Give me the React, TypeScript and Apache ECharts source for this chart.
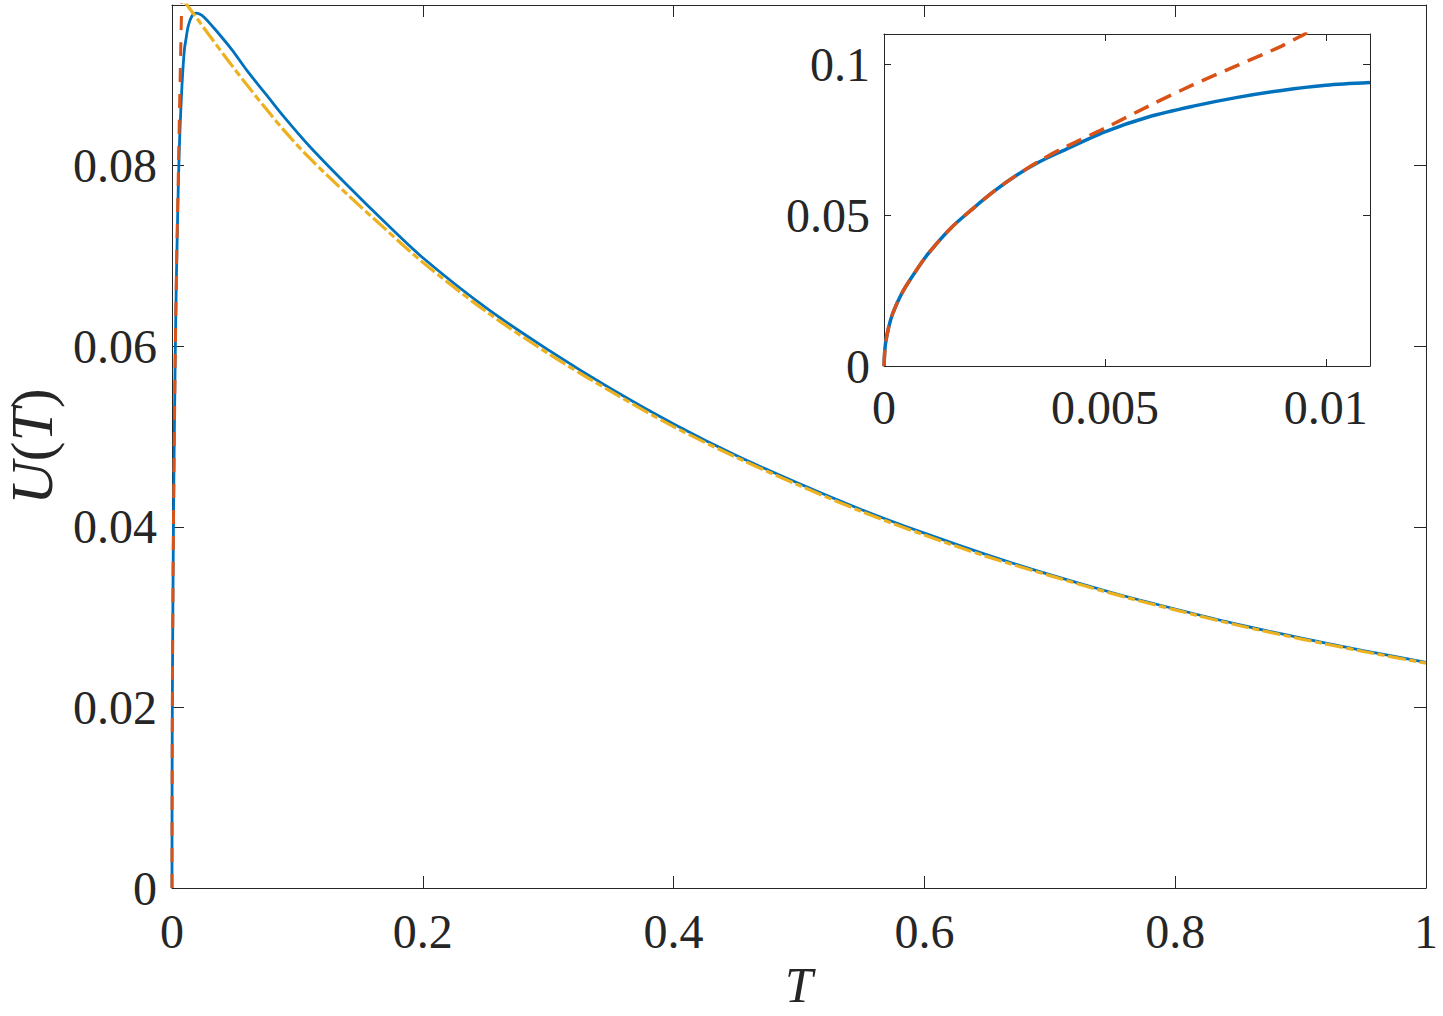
import React, { useEffect, useRef } from "react";
import * as echarts from "echarts";

// ---- Data ----
// Exact (blue) curve
const exactT = [0, 0.00003, 0.0001, 0.0002, 0.0004, 0.0007, 0.001, 0.0015, 0.002, 0.0025, 0.003, 0.0035, 0.004, 0.005, 0.006, 0.007, 0.008, 0.009, 0.01, 0.011, 0.013, 0.016, 0.019, 0.022, 0.026, 0.035, 0.048, 0.06, 0.075, 0.09, 0.11, 0.14, 0.17, 0.2, 0.25, 0.3, 0.35, 0.4, 0.45, 0.5, 0.55, 0.6, 0.65, 0.7, 0.75, 0.8, 0.85, 0.9, 0.95, 1.0];
const exactU = [0, 0.007, 0.0125, 0.0175, 0.024, 0.031, 0.0372, 0.0455, 0.052, 0.058, 0.0632, 0.0675, 0.071, 0.0776, 0.0826, 0.0861, 0.089, 0.0913, 0.093, 0.0939, 0.0955, 0.0966, 0.0969, 0.0968, 0.0964, 0.095, 0.0928, 0.0905, 0.0879, 0.0853, 0.0821, 0.0778, 0.0737, 0.0698, 0.0643, 0.0596, 0.0553, 0.0514, 0.0479, 0.0448, 0.0419, 0.0393, 0.0369, 0.0347, 0.0327, 0.0309, 0.0292, 0.0277, 0.0263, 0.025];

// Low-T approximation (orange dashed)
const lowT = [0, 0.00003, 0.0001, 0.0002, 0.0004, 0.0007, 0.001, 0.0015, 0.002, 0.0025, 0.003, 0.0035, 0.004, 0.005, 0.006, 0.007, 0.008, 0.009, 0.0095, 0.01];
const lowU = [0, 0.007, 0.0125, 0.0175, 0.024, 0.031, 0.0372, 0.0455, 0.052, 0.058, 0.0632, 0.0678, 0.0718, 0.0788, 0.0862, 0.0932, 0.0996, 0.106, 0.1098, 0.113];

// High-T approximation (yellow dash-dot)
const highT = [0.01, 0.012, 0.02, 0.03, 0.045, 0.06, 0.075, 0.09, 0.11, 0.14, 0.17, 0.2, 0.25, 0.3, 0.35, 0.4, 0.45, 0.5, 0.55, 0.6, 0.65, 0.7, 0.75, 0.8, 0.85, 0.9, 0.95, 1.0];
const highU = [0.0982, 0.0978, 0.0963, 0.0944, 0.0916, 0.0889, 0.0863, 0.0838, 0.0808, 0.0768, 0.073, 0.0693, 0.0639, 0.0592, 0.055, 0.0511, 0.0477, 0.0446, 0.0417, 0.0391, 0.0367, 0.0346, 0.0326, 0.0308, 0.0291, 0.0276, 0.0262, 0.0249];

// Axis ticks
const mainXTicks = [0, 0.2, 0.4, 0.6, 0.8, 1];
const mainYTicks = [0, 0.02, 0.04, 0.06, 0.08];
const insetXTicks = [0, 0.005, 0.01];
const insetYTicks = [0, 0.05, 0.1];

const zip = (xs: number[], ys: number[]) => xs.map((x, i) => [x, ys[i]]);
const insetLimit = 0.011;

const FONT = "'Liberation Serif', 'Times New Roman', serif";
const INK = "#262626";
const BLUE = "#0072BD";
const ORANGE = "#D95319";
const YELLOW = "#EDB120";

const fmt = (ticks: number[]) => (v: number) => {
  const hit = ticks.find((t) => Math.abs(t - v) < 1e-9);
  return hit === undefined ? "" : String(hit);
};

function axisBase(tickLen: number) {
  return {
    type: "value" as const,
    axisLine: { show: true, onZero: false, lineStyle: { color: INK, width: 1 } },
    axisTick: { show: true, inside: true, length: tickLen, lineStyle: { color: INK, width: 1 } },
    splitLine: { show: false },
  };
}

export default function App() {
  const ref = useRef<HTMLDivElement>(null);
  useEffect(() => {
    if (!ref.current) return;
    const chart = echarts.init(ref.current, null, { renderer: "svg" });
    const labelStyle = { fontFamily: FONT, fontSize: 48, color: INK };
    const lineCommon = { showSymbol: false, smooth: 0.3, clip: true };
    const option: any = {
      animation: false,
      backgroundColor: "#ffffff",
      grid: [
        { left: 172, top: 5, width: 1254, height: 883, containLabel: false, outerBoundsMode: "none", show: false },
        { left: 884, top: 34, width: 486, height: 332, containLabel: false, outerBoundsMode: "none", show: true, backgroundColor: "#ffffff", borderWidth: 0 },
      ],
      xAxis: [
        {
          ...axisBase(12), gridIndex: 0, position: "bottom", min: 0, max: 1, interval: 0.2,
          axisLabel: { ...labelStyle, margin: 19, formatter: fmt(mainXTicks) },
          name: "T", nameLocation: "middle", nameGap: 70,
          nameTextStyle: { fontFamily: FONT, fontSize: 50, fontStyle: "italic", color: INK, lineHeight: 46 },
        },
        { ...axisBase(12), gridIndex: 0, position: "top", min: 0, max: 1, interval: 0.2, axisLabel: { show: false } },
        {
          ...axisBase(7), gridIndex: 1, position: "bottom", min: 0, max: insetLimit, interval: 0.005,
          axisLabel: { ...labelStyle, margin: 17, formatter: fmt(insetXTicks), showMaxLabel: false },
        },
        { ...axisBase(7), gridIndex: 1, position: "top", min: 0, max: insetLimit, interval: 0.005, axisLabel: { show: false } },
      ],
      yAxis: [
        {
          ...axisBase(12), gridIndex: 0, position: "left", min: 0, max: 0.0978, interval: 0.02,
          axisLabel: { ...labelStyle, margin: 15, formatter: fmt(mainYTicks), showMaxLabel: false },
          name: "{i|U}{r|(}{i|T}{r|)}", nameLocation: "middle", nameGap: 112, nameRotate: 90,
          nameTextStyle: {
            color: INK,
            lineHeight: 56,
            rich: {
              i: { fontFamily: FONT, fontSize: 60, fontStyle: "italic", color: INK, lineHeight: 56 },
              r: { fontFamily: FONT, fontSize: 60, color: INK, lineHeight: 56 },
            },
          },
        },
        { ...axisBase(12), gridIndex: 0, position: "right", min: 0, max: 0.0978, interval: 0.02, axisLabel: { show: false } },
        {
          ...axisBase(7), gridIndex: 1, position: "left", min: 0, max: 0.11, interval: 0.05,
          axisLabel: { ...labelStyle, margin: 14, formatter: fmt(insetYTicks), showMaxLabel: false },
        },
        { ...axisBase(7), gridIndex: 1, position: "right", min: 0, max: 0.11, interval: 0.05, axisLabel: { show: false } },
      ],
      series: [
        {
          type: "line", xAxisIndex: 0, yAxisIndex: 0, data: zip(exactT, exactU), ...lineCommon,
          lineStyle: { color: BLUE, width: 2.8 }, z: 2,
        },
        {
          type: "line", xAxisIndex: 0, yAxisIndex: 0, data: zip(lowT, lowU), ...lineCommon,
          lineStyle: { color: ORANGE, width: 3, type: [14, 12], cap: "butt" }, z: 3,
        },
        {
          type: "line", xAxisIndex: 0, yAxisIndex: 0, data: zip(highT, highU), ...lineCommon,
          lineStyle: { color: YELLOW, width: 3.2, type: [18, 3.5, 7, 3.5], cap: "butt" }, z: 4,
        },
        {
          type: "line", xAxisIndex: 2, yAxisIndex: 2, data: zip(exactT, exactU).filter((p) => p[0] <= insetLimit), ...lineCommon,
          lineStyle: { color: BLUE, width: 3.5 }, z: 6,
        },
        {
          type: "line", xAxisIndex: 2, yAxisIndex: 2, data: zip(lowT, lowU), ...lineCommon,
          lineStyle: { color: ORANGE, width: 3.5, type: [16, 9], cap: "butt" }, z: 7,
        },
      ],
    };
    chart.setOption(option);
    return () => chart.dispose();
  }, []);
  return (
    <div
      ref={ref}
      style={{ position: "fixed", left: 0, top: 0, width: 1443, height: 1016, background: "#fff" }}
    />
  );
}
